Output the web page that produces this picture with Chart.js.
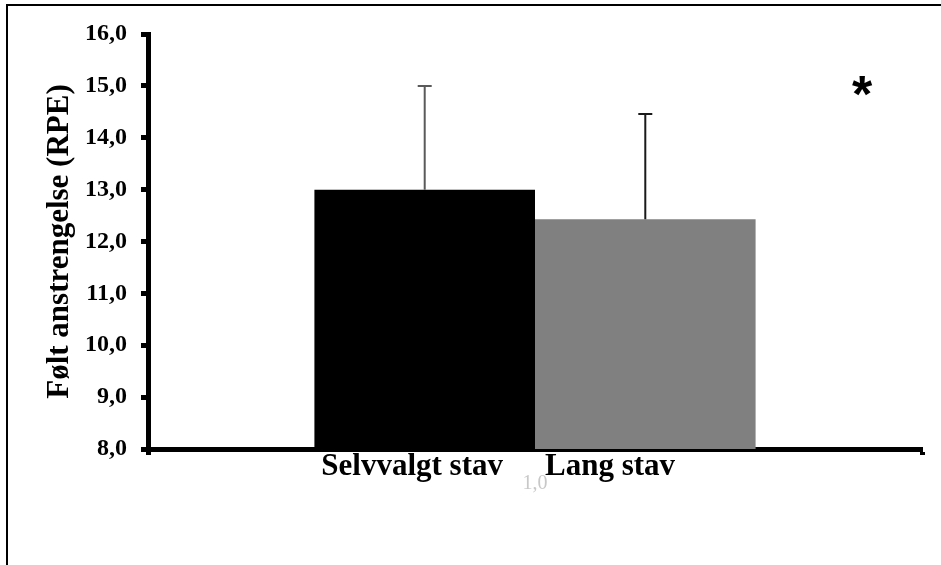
<!DOCTYPE html>
<html>
<head>
<meta charset="utf-8">
<script src="https://cdn.jsdelivr.net/npm/chart.js@4"></script>
<style>
  html, body { margin: 0; padding: 0; background: #fff; overflow: hidden; }
  #wrap { position: relative; width: 941px; height: 565px; }
  #frame { position: absolute; left: 6px; top: 4px; width: 1000px; height: 1000px;
           border: 2px solid #000; box-sizing: border-box; }
  canvas { position: absolute; left: 0; top: 0; }
</style>
</head>
<body>
<div id="wrap">
  <div id="frame"></div>
  <canvas id="c" width="941" height="565"></canvas>
</div>
<script>
// Perceived exertion (RPE), mean and standard deviation per pole type
const categories = ['1,0'];
const seriesNames = ['Selvvalgt stav', 'Lang stav'];
const meanRPE = [13.0, 12.43];
const sdRPE = [2.0, 2.03];
const yTickLabels = ['8,0', '9,0', '10,0', '11,0', '12,0', '13,0', '14,0', '15,0', '16,0'];
const yTitle = 'Følt anstrengelse (RPE)';
const significanceMark = '*';

const SERIF = "'Liberation Serif', 'Times New Roman', serif";
const barColors = ['#000000', '#808080'];
const whiskerColors = ['#5a5a5a', '#1a1a1a'];

// Upper standard-deviation whiskers
const errorBars = {
  id: 'errorBars',
  afterDatasetsDraw(chart) {
    const { ctx } = chart;
    const y = chart.scales.y;
    chart.data.datasets.forEach((ds, i) => {
      const meta = chart.getDatasetMeta(i);
      meta.data.forEach((bar, j) => {
        const yTop = y.getPixelForValue(ds.data[j] + ds.sd[j]);
        const yBase = y.getPixelForValue(ds.data[j]);
        ctx.save();
        ctx.strokeStyle = whiskerColors[i];
        ctx.lineWidth = 2;
        ctx.beginPath();
        ctx.moveTo(bar.x, yBase);
        ctx.lineTo(bar.x, yTop);
        ctx.moveTo(bar.x - 7, yTop);
        ctx.lineTo(bar.x + 7, yTop);
        ctx.stroke();
        ctx.restore();
      });
    });
  }
};

// Series names under the axis and the significance mark
const annotations = {
  id: 'annotations',
  afterDraw(chart) {
    const { ctx, chartArea } = chart;
    const x = chart.scales.x;
    const cx = x.getPixelForValue(0);
    ctx.save();
    ctx.fillStyle = '#000';
    ctx.font = `bold 31px ${SERIF}`;
    ctx.textBaseline = 'alphabetic';
    ctx.textAlign = 'right';
    ctx.fillText(seriesNames[0], cx - 32, chartArea.bottom + 26);
    ctx.textAlign = 'left';
    ctx.fillText(seriesNames[1], cx + 10, chartArea.bottom + 26);

    ctx.font = "bold 52px 'Liberation Sans', Arial, sans-serif";
    ctx.textAlign = 'center';
    ctx.textBaseline = 'middle';
    ctx.fillText(significanceMark, chartArea.right - 60, chartArea.top + 64);
    ctx.restore();
  }
};

new Chart(document.getElementById('c'), {
  type: 'bar',
  data: {
    labels: categories,
    datasets: seriesNames.map((name, i) => ({
      label: name,
      data: [meanRPE[i]],
      sd: [sdRPE[i]],
      backgroundColor: barColors[i],
      borderWidth: 0,
      categoryPercentage: 0.57,
      barPercentage: 1.0
    }))
  },
  options: {
    responsive: false,
    devicePixelRatio: 1,
    animation: false,
    layout: { padding: { left: 0, right: 19, top: 34, bottom: 0 } },
    plugins: {
      legend: { display: false },
      tooltip: { enabled: false }
    },
    scales: {
      x: {
        grid: {
          offset: true,
          drawOnChartArea: false,
          drawTicks: true,
          tickLength: 6,
          tickWidth: 5,
          tickColor: '#000'
        },
        border: { display: true, color: '#000', width: 5 },
        ticks: {
          color: '#c8c8c8',
          font: { family: SERIF, size: 20 },
          padding: 17
        },
        afterFit(scale) { scale.height = 116; }
      },
      y: {
        min: 8,
        max: 16,
        ticks: {
          stepSize: 1,
          color: '#000',
          font: { family: SERIF, size: 24, weight: 'bold' },
          padding: 14,
          callback: (value, index) => yTickLabels[index]
        },
        grid: {
          drawOnChartArea: false,
          drawTicks: true,
          tickLength: 7,
          tickWidth: 5,
          tickColor: '#000'
        },
        border: { display: true, color: '#000', width: 5 },
        title: {
          display: true,
          text: yTitle,
          color: '#000',
          font: { family: SERIF, size: 31, weight: 'bold' },
          padding: { top: 41, bottom: 0 }
        },
        afterFit(scale) { scale.width = 148; }
      }
    }
  },
  plugins: [errorBars, annotations]
});
</script>
</body>
</html>
